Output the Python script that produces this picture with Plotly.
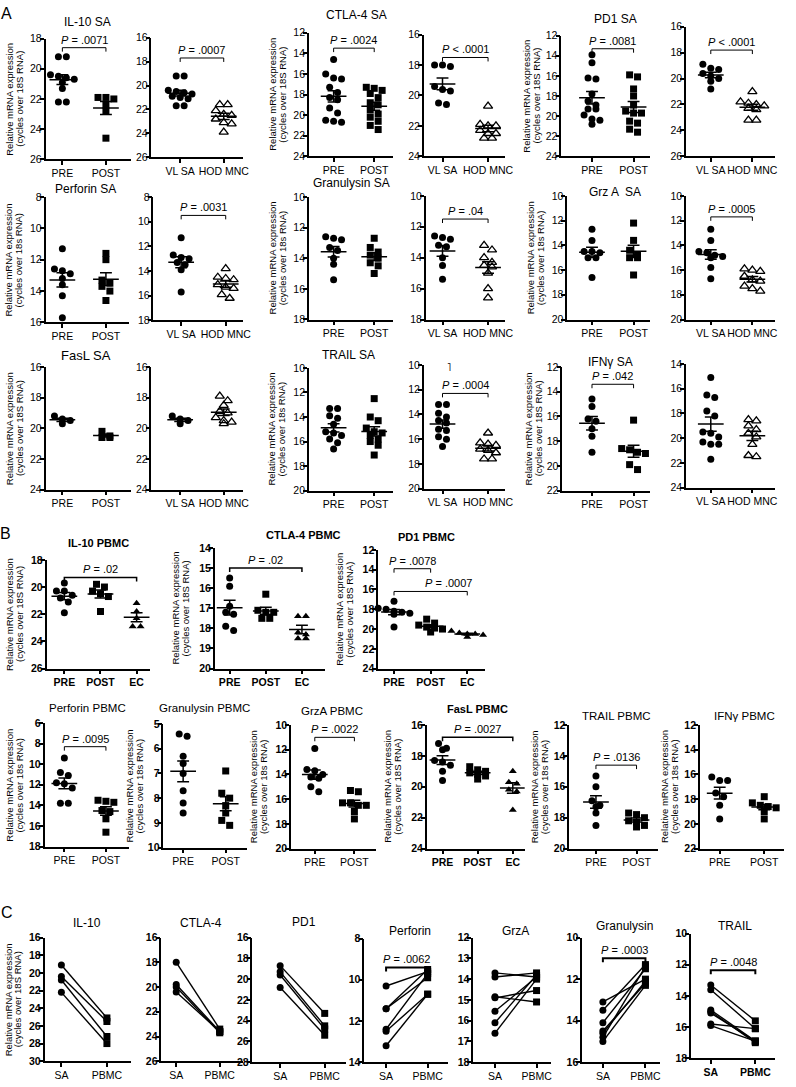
import numpy as np
import plotly.graph_objects as go

W, H = 796, 1087
FONT = "Arial, Liberation Sans, sans-serif"

# ---------------- DATA (cycles over 18S RNA) ----------------
# Panel A, row 1
IL10_SA_PRE = [19.2, 19.2, 20.4, 20.5, 20.6, 20.7, 20.9, 21.3, 22.2, 22.2]
IL10_SA_POST = [21.9, 21.9, 22.0, 22.4, 22.8, 24.6]
IL10_VLSA = [19.2, 19.2, 20.4, 20.5, 20.6, 20.7, 20.9, 21.0, 21.1, 21.7, 21.7]
IL10_HOD = [21.6, 21.6, 22.1, 22.4, 22.5, 22.8, 23.1, 23.2, 23.9]
CTLA4_SA_PRE = [14.6, 16.0, 16.4, 16.5, 17.3, 17.8, 18.3, 18.5, 19.3, 19.8, 20.5, 20.7, 20.6]
CTLA4_SA_POST = [17.3, 17.4, 17.6, 17.9, 18.3, 18.8, 19.0, 19.5, 19.9, 20.2, 20.6, 21.0, 21.4]
CTLA4_VLSA = [18.0, 18.0, 18.1, 19.4, 19.6, 19.7, 20.5, 20.6]
CTLA4_HOD = [20.7, 21.9, 22.0, 22.0, 22.3, 22.5, 22.5, 22.8, 22.8]
PD1_SA_PRE = [13.9, 14.7, 16.2, 16.3, 17.8, 18.5, 18.9, 19.3, 19.3, 19.9, 20.3, 20.4, 20.8]
PD1_SA_POST = [15.9, 16.1, 17.3, 18.0, 18.9, 19.5, 19.7, 19.7, 20.5, 20.7, 21.3, 21.6]
PD1_VLSA = [18.9, 19.2, 19.3, 19.6, 19.8, 20.0, 20.2, 20.8]
PD1_HOD = [21.0, 21.8, 21.9, 22.0, 22.1, 22.3, 22.4, 23.2, 23.2]
# Panel A, row 2
PERF_SA_PRE = [11.3, 12.6, 12.7, 12.9, 13.2, 13.6, 14.3, 15.7]
PERF_SA_POST = [11.6, 12.0, 13.3, 13.5, 13.7, 14.0, 14.6]
PERF_VLSA = [11.3, 12.7, 12.9, 13.0, 13.3, 13.5, 13.9, 15.7]
PERF_HOD = [13.8, 14.5, 14.6, 14.7, 15.1, 15.3, 15.4, 15.9, 16.2]
GNLY_SA_PRE = [12.6, 12.7, 12.8, 13.3, 13.5, 14.0, 14.4, 15.4]
GNLY_SA_POST = [12.7, 13.3, 13.6, 13.8, 14.0, 14.3, 14.5, 15.0]
GNLY_VLSA = [12.6, 12.7, 12.8, 13.2, 13.3, 14.0, 14.5, 15.4]
GNLY_HOD = [13.2, 13.5, 14.0, 14.3, 14.5, 14.6, 15.0, 16.0, 16.6]
GRZA_SA_PRE = [12.7, 13.6, 14.5, 14.5, 14.6, 15.0, 15.0, 16.6]
GRZA_SA_POST = [12.2, 13.6, 14.4, 14.8, 15.0, 15.0, 16.4]
GRZA_VLSA = [12.7, 13.6, 14.5, 14.6, 14.8, 14.9, 15.0, 15.8, 16.7]
GRZA_HOD = [15.9, 16.0, 16.1, 16.5, 16.8, 16.9, 17.3, 17.5, 17.7]
# Panel A, row 3
FASL_SA_PRE = [19.2, 19.4, 19.5, 19.7]
FASL_SA_POST = [20.2, 20.5, 20.6, 20.6]
FASL_VLSA = [19.2, 19.4, 19.5, 19.7]
FASL_HOD = [17.9, 18.2, 18.5, 18.9, 19.0, 19.3, 19.5, 19.6, 19.7]
TRAIL_SA_PRE = [13.3, 13.3, 13.9, 14.1, 14.6, 15.2, 15.3, 15.5, 15.8, 16.1, 16.6]
TRAIL_SA_POST = [12.5, 14.0, 14.3, 14.9, 15.2, 15.3, 15.5, 15.8, 16.0, 16.3, 17.1]
TRAIL_VLSA = [13.2, 13.2, 13.9, 14.2, 14.5, 14.7, 15.2, 15.3, 15.8, 16.0, 16.6]
TRAIL_HOD = [15.5, 16.3, 16.4, 16.5, 16.8, 16.9, 17.1, 17.6, 17.6]
IFNG_SA_PRE = [14.6, 15.2, 16.2, 16.4, 17.0, 17.6, 18.9]
IFNG_SA_POST = [16.3, 18.6, 18.7, 18.9, 19.0, 19.9, 20.3]
IFNG_VLSA = [15.1, 16.5, 16.7, 17.8, 18.2, 19.5, 19.6, 19.9, 20.3, 20.5, 20.5, 21.7]
IFNG_HOD = [18.5, 18.6, 19.0, 19.3, 19.6, 19.9, 20.5, 21.4, 21.5]
# Panel B, row 1
IL10_PBMC_PRE = [19.7, 20.3, 20.3, 20.6, 20.8, 21.1, 21.9]
IL10_PBMC_POST = [19.8, 20.0, 20.3, 20.5, 20.7, 21.8]
IL10_PBMC_EC = [21.2, 21.8, 22.3, 22.9, 22.9]
CTLA4_PBMC_PRE = [15.5, 15.9, 16.9, 17.2, 17.3, 17.9, 18.1]
CTLA4_PBMC_POST = [16.3, 17.1, 17.2, 17.2, 17.5, 17.5]
CTLA4_PBMC_EC = [17.4, 17.4, 18.2, 18.3, 18.5, 18.5]
PD1_PBMC_PRE = [17.2, 17.9, 18.0, 18.2, 18.3, 18.4, 18.5, 19.8]
PD1_PBMC_POST = [19.0, 19.4, 19.6, 19.8, 19.9, 20.0, 20.3]
PD1_PBMC_EC = [20.2, 20.4, 20.5, 20.5, 20.6, 20.8]
# Panel B, row 2
PERF_PBMC_PRE = [9.4, 10.8, 11.1, 11.8, 11.9, 12.3, 13.8, 13.8]
PERF_PBMC_POST = [13.5, 13.6, 13.7, 14.5, 14.6, 15.3, 16.6]
GNLY_PBMC_PRE = [5.4, 5.5, 6.3, 6.6, 7.0, 7.7, 8.2, 8.6]
GNLY_PBMC_POST = [6.9, 7.8, 8.0, 8.3, 8.6, 8.9, 9.1]
GRZA_PBMC_PRE = [11.9, 13.6, 13.7, 14.0, 14.2, 14.3, 15.0, 15.4]
GRZA_PBMC_POST = [15.3, 15.4, 16.3, 16.3, 16.5, 16.5, 17.0, 17.6]
FASL_PBMC_PRE = [17.2, 17.5, 17.6, 18.3, 18.4, 18.6, 19.0, 19.6]
FASL_PBMC_POST = [18.7, 18.9, 19.0, 19.1, 19.2, 19.3, 19.5]
FASL_PBMC_EC = [19.0, 19.7, 19.8, 20.2, 20.3, 21.5]
TRAIL_PBMC_PRE = [15.3, 16.0, 16.9, 17.2, 17.3, 17.7, 18.5]
TRAIL_PBMC_POST = [17.7, 17.8, 18.0, 18.2, 18.3, 18.5, 18.6]
IFNG_PBMC_PRE = [16.2, 16.5, 16.5, 17.5, 17.8, 18.5, 19.6]
IFNG_PBMC_POST = [17.8, 18.3, 18.5, 18.6, 18.7, 19.0, 19.6]
# Panel C (paired SA -> PBMC)
C_IL10_SA = [19.1, 20.4, 20.8, 22.2]
C_IL10_PBMC = [25.1, 25.5, 27.2, 28.0]
C_CTLA4_SA = [18.0, 19.8, 20.0, 20.4]
C_CTLA4_PBMC = [23.4, 23.6, 23.7, 23.6]
C_PD1_SA = [18.7, 19.3, 19.6, 20.8]
C_PD1_PBMC = [23.3, 24.5, 24.8, 25.4]
C_PERF_SA = [10.3, 11.4, 11.4, 12.4, 12.5, 13.2]
C_PERF_PBMC = [9.6, 9.5, 9.9, 9.7, 10.7, 10.7]
C_GRZA_SA = [13.7, 13.9, 14.85, 14.9, 15.55, 16.1, 16.6]
C_GRZA_PBMC = [13.9, 13.7, 15.1, 14.55, 13.9, 13.8, 14.0]
C_GNLY_SA = [13.1, 13.5, 14.1, 14.5, 14.6, 14.8, 15.0]
C_GNLY_PBMC = [12.0, 11.3, 11.5, 12.2, 12.1, 11.4, 12.3]
C_TRAIL_SA = [13.3, 13.6, 14.9, 15.0, 15.1, 15.8, 15.9]
C_TRAIL_PBMC = [15.6, 16.1, 16.9, 17.0, 16.9, 16.1, 16.9]

CATS_PP = ["PRE", "POST"]
CATS_VH = ["VL SA", "HOD MNC"]
CATS_PPE = ["PRE", "POST", "EC"]
CATS_SP = ["SA", "PBMC"]

YT_S = ("Relative mRNA expression", "(cycles over 18S RNA)")
YT_s = ("Relative mRNA expression", "(cycles over 18s RNA)")

# ---------------- STYLES ----------------
STY = {
    "circle": dict(symbol="circle", size=7, color="black"),
    "square": dict(symbol="square", size=7, color="black"),
    "tri_open": dict(symbol="triangle-up-open", size=8, color="black", line=dict(width=1.3, color="black")),
    "tri": dict(symbol="triangle-up", size=7, color="black"),
}

def P(box, ylim, dtick, cats, cpx, groups=None, brackets=(), title=None, ytitle=None,
      tickbold=False, catbold=False, paired=None, bw=1.0):
    return dict(box=box, ylim=ylim, dtick=dtick, cats=cats, cpx=cpx, groups=groups or [],
                brackets=brackets, title=title, ytitle=ytitle, tickbold=tickbold,
                catbold=catbold, paired=paired, bw=bw)

panels = [
    # ---- A row 1
    P((46, 132, 33, 155), (18, 26), 2, CATS_PP, (63, 107),
      [(IL10_SA_PRE, "circle"), (IL10_SA_POST, "square")], [(0, 1, 18.6, ".0071")],
      ("IL-10 SA", 88, 16, 12, False), (YT_S, 17)),
    P((153, 245, 32, 153), (16, 26), 2, CATS_VH, (182, 226),
      [(IL10_VLSA, "circle"), (IL10_HOD, "tri_open")], [(0, 1, 17.7, ".0007")]),
    P((312, 397, 27, 152), (12, 24), 2, CATS_PP, (337, 378),
      [(CTLA4_SA_PRE, "circle"), (CTLA4_SA_POST, "square")], [(0, 1, 13.5, ".0024")],
      ("CTLA-4 SA", 360, 9, 12, False), (YT_S, 282)),
    P((428, 510, 29, 152), (16, 24), 2, CATS_VH, (447, 493),
      [(CTLA4_VLSA, "circle"), (CTLA4_HOD, "tri_open")], [(0, 1, 17.5, "< .0001")]),
    P((567, 657, 30, 152), (12, 24), 2, CATS_PP, (598, 640),
      [(PD1_SA_PRE, "circle"), (PD1_SA_POST, "square")], [(0, 1, 13.3, ".0081")],
      ("PD1 SA", 622, 13, 12, False), (YT_S, 539)),
    P((693, 783, 21, 152), (16, 26), 2, CATS_VH, (718, 760),
      [(PD1_VLSA, "circle"), (PD1_HOD, "tri_open")], [(0, 1, 17.8, "< .0001")]),
    # ---- A row 2
    P((46, 130, 193, 320), (8, 16), 2, CATS_PP, (63, 107),
      [(PERF_SA_PRE, "circle"), (PERF_SA_POST, "square")], [],
      ("Perforin SA", 86, 185, 12, False), (YT_s, 16)),
    P((155, 245, 193, 318), (8, 18), 2, CATS_VH, (183, 228),
      [(PERF_VLSA, "circle"), (PERF_HOD, "tri_open")], [(0, 1, 9.5, ".0031")]),
    P((312, 397, 193, 317), (10, 18), 2, CATS_PP, (337, 378),
      [(GNLY_SA_PRE, "circle"), (GNLY_SA_POST, "square")], [],
      ("Granulysin SA", 355, 179, 12, False), (YT_s, 282)),
    P((430, 510, 192, 317), (10, 18), 2, CATS_VH, (447, 493),
      [(GNLY_VLSA, "circle"), (GNLY_HOD, "tri_open")], [(0, 1, 11.5, ".04")]),
    P((573, 657, 192, 317), (10, 20), 2, CATS_PP, (598, 640),
      [(GRZA_SA_PRE, "circle"), (GRZA_SA_POST, "square")], [],
      ("Grz A  SA", 621, 188, 12, False), (YT_s, 543)),
    P((693, 783, 192, 317), (10, 20), 2, CATS_VH, (718, 760),
      [(GRZA_VLSA, "circle"), (GRZA_HOD, "tri_open")], [(0, 1, 11.7, ".0005")]),
    # ---- A row 3
    P((46, 132, 365, 489), (16, 24), 2, CATS_PP, (63, 107),
      [(FASL_SA_PRE, "circle"), (FASL_SA_POST, "square")], [],
      ("FasL SA", 87, 353, 13, False), (YT_S, 16)),
    P((153, 245, 365, 489), (16, 24), 2, CATS_VH, (182, 226),
      [(FASL_VLSA, "circle"), (FASL_HOD, "tri_open")], []),
    P((312, 397, 366, 490), (10, 20), 2, CATS_PP, (337, 378),
      [(TRAIL_SA_PRE, "circle"), (TRAIL_SA_POST, "square")], [],
      ("TRAIL SA", 352, 353, 12, False), (YT_s, 281)),
    P((428, 510, 363, 488), (10, 20), 2, CATS_VH, (447, 493),
      [(TRAIL_VLSA, "circle"), (TRAIL_HOD, "tri_open")], [(0, 1, 12.3, ".0004")]),
    P((568, 657, 365, 490), (12, 22), 2, CATS_PP, (598, 640),
      [(IFNG_SA_PRE, "circle"), (IFNG_SA_POST, "square")], [(0, 1, 13.4, ".042")],
      ("IFNγ SA", 617, 360, 12, False), (YT_S, 541)),
    P((693, 783, 362, 487), (14, 24), 2, CATS_VH, (718, 760),
      [(IFNG_VLSA, "circle"), (IFNG_HOD, "tri_open")], []),
    # ---- B row 1
    P((47, 152, 560, 670), (18, 26), 2, CATS_PPE, (65, 102, 138),
      [(IL10_PBMC_PRE, "circle"), (IL10_PBMC_POST, "square"), (IL10_PBMC_EC, "tri")],
      [(0, 2, 19.3, ".02")], ("IL-10 PBMC", 99, 543, 11, True), (YT_S, 16),
      tickbold=True, catbold=True, bw=1.5),
    P((217, 328, 548, 670), (14, 20), 1, CATS_PPE, (232, 270, 305),
      [(CTLA4_PBMC_PRE, "circle"), (CTLA4_PBMC_POST, "square"), (CTLA4_PBMC_EC, "tri")],
      [(0, 2, 15.0, ".02")], ("CTLA-4 PBMC", 307, 535, 11, True), (YT_S, 184),
      tickbold=True, catbold=True, bw=1.5),
    P((382, 490, 550, 670), (12, 24), 2, CATS_PPE, (398, 435, 472),
      [(PD1_PBMC_PRE, "circle"), (PD1_PBMC_POST, "square"), (PD1_PBMC_EC, "tri")],
      [(0, 1, 13.9, ".0078"), (0, 2, 16.2, ".0007", 1.5)],
      ("PD1 PBMC", 431, 537, 11, True), (YT_S, 350),
      tickbold=True, catbold=True),
    # ---- B row 2
    P((45, 130, 725, 850), (6, 18), 2, CATS_PP, (65, 107),
      [(PERF_PBMC_PRE, "circle"), (PERF_PBMC_POST, "square")], [(0, 1, 8.3, ".0095")],
      ("Perforin PBMC", 88, 710, 11.5, False), (YT_s, 17), tickbold=True),
    P((165, 250, 726, 851), (5, 10), 1, CATS_PP, (185, 228),
      [(GNLY_PBMC_PRE, "circle"), (GNLY_PBMC_POST, "square")], [],
      ("Granulysin PBMC", 207, 710, 11.5, False), (YT_s, 138), tickbold=True),
    P((294, 380, 727, 852), (10, 20), 2, CATS_PP, (318, 358),
      [(GRZA_PBMC_PRE, "circle"), (GRZA_PBMC_POST, "square")], [(0, 1, 11.0, ".0022")],
      ("GrzA PBMC", 335, 713, 11.5, False), (YT_s, 263), tickbold=True),
    P((431, 530, 727, 852), (16, 24), 2, CATS_PPE, (447, 483, 518),
      [(FASL_PBMC_PRE, "circle"), (FASL_PBMC_POST, "square"), (FASL_PBMC_EC, "tri")],
      [(0, 2, 16.8, ".0027")], ("FasL PBMC", 482, 711, 11, True), (YT_S, 399),
      tickbold=True, catbold=True, bw=1.5),
    P((575, 665, 727, 852), (12, 20), 2, CATS_PP, (602, 643),
      [(TRAIL_PBMC_PRE, "circle"), (TRAIL_PBMC_POST, "square")], [(0, 1, 14.6, ".0136")],
      ("TRAIL PBMC", 623, 718, 11.5, False), (YT_s, 547), tickbold=True),
    P((707, 792, 727, 852), (12, 22), 2, CATS_PP, (727, 772),
      [(IFNG_PBMC_PRE, "circle"), (IFNG_PBMC_POST, "square")], [],
      ("IFNγ PBMC", 752, 718, 11.5, False), (YT_s, 679), tickbold=True),
    # ---- C
    P((45, 132, 942, 1067), (16, 30), 2, CATS_SP, (62, 108), paired=(C_IL10_SA, C_IL10_PBMC),
      title=("IL-10", 88, 927, 12, False), ytitle=(YT_S, 15), tickbold=True),
    P((163, 245, 942, 1067), (16, 26), 2, CATS_SP, (178, 222), paired=(C_CTLA4_SA, C_CTLA4_PBMC),
      title=("CTLA-4", 203, 927, 12, False), tickbold=True),
    P((255, 350, 942, 1068), (16, 28), 2, CATS_SP, (283, 328), paired=(C_PD1_SA, C_PD1_PBMC),
      title=("PD1", 307, 926, 12, False), tickbold=True),
    P((368, 453, 943, 1068), (8, 14), 2, CATS_SP, (390, 432), paired=(C_PERF_SA, C_PERF_PBMC),
      brackets=[(0, 1, 9.4, ".0062")], title=("Perforin", 414, 935, 12, False), tickbold=True, bw=2),
    P((478, 557, 942, 1068), (12, 18), 1, CATS_SP, (500, 542), paired=(C_GRZA_SA, C_GRZA_PBMC),
      title=("GrzA", 521, 935, 12, False), tickbold=True),
    P((588, 667, 942, 1068), (10, 16), 2, CATS_SP, (609, 652), paired=(C_GNLY_SA, C_GNLY_PBMC),
      brackets=[(0, 1, 11.0, ".0003")], title=("Granulysin", 631, 930, 12, False), tickbold=True, bw=2),
    P((698, 783, 938, 1064), (10, 18), 2, CATS_SP, (718, 763), paired=(C_TRAIL_SA, C_TRAIL_PBMC),
      brackets=[(0, 1, 12.35, ".0048")], title=("TRAIL", 742, 930, 12, False),
      tickbold=True, catbold=True, bw=2),
]


def swarm(vals, ppy, ppx, sp=8.0, thr=6.0):
    vals = np.asarray(vals, float)
    order = np.argsort(vals, kind="stable")
    ypx = vals * ppy
    offs = np.zeros(len(vals))
    rows, cur = [], [order[0]]
    for idx in order[1:]:
        if ypx[idx] - ypx[cur[0]] < thr:
            cur.append(idx)
        else:
            rows.append(cur)
            cur = [idx]
    rows.append(cur)
    for r in rows:
        n = len(r)
        for m, idx in enumerate(r):
            offs[idx] = (m - (n - 1) / 2) * sp / ppx
    return offs


fig = go.Figure()
axes = {}
annotations = []

for k, p in enumerate(panels, start=1):
    x0, x1, yt, yb = p["box"]
    ytop, ybot = p["ylim"]
    cats, cpx = p["cats"], p["cpx"]
    n = len(cats)
    ppx = (cpx[-1] - cpx[0]) / (n - 1)
    r0 = -(cpx[0] - x0) / ppx
    r1 = (x1 - cpx[0]) / ppx
    ppy = (yb - yt) / (ybot - ytop)
    xa = "x" if k == 1 else f"x{k}"
    ya = "y" if k == 1 else f"y{k}"
    xn = "xaxis" if k == 1 else f"xaxis{k}"
    yn = "yaxis" if k == 1 else f"yaxis{k}"
    tv = np.arange(ytop, ybot + 1e-9, p["dtick"])
    tw = "bold" if p["tickbold"] else "normal"
    cw = "bold" if p["catbold"] else "normal"
    common = dict(showline=True, linecolor="black", linewidth=1.5, ticks="outside", ticklen=4,
                  tickwidth=1.5, tickcolor="black", showgrid=False, zeroline=False, fixedrange=True)
    axes[xn] = dict(domain=[x0 / W, x1 / W], range=[r0, r1], anchor=ya, tickmode="array",
                    tickvals=list(range(n)), ticktext=cats, tickangle=0, ticklabelstandoff=-1,
                    tickfont=dict(family=FONT, size=10.5, color="black", weight=cw), **common)
    axes[yn] = dict(domain=[1 - yb / H, 1 - yt / H], range=[ybot, ytop], anchor=xa, tickmode="array",
                    tickvals=[float(v) for v in tv], ticktext=[f"{v:g}" for v in tv],
                    ticklabelstandoff=-4,
                    tickfont=dict(family=FONT, size=10.5, color="black", weight=tw), **common)

    if p["paired"] is not None:
        sa, pb = p["paired"]
        lx, ly = [], []
        for a, b in zip(sa, pb):
            lx += [0, 1, None]
            ly += [a, b, None]
        fig.add_trace(go.Scatter(x=lx, y=ly, xaxis=xa, yaxis=ya, mode="lines",
                                 line=dict(color="black", width=1.4), hoverinfo="skip",
                                 showlegend=False, cliponaxis=False))
        fig.add_trace(go.Scatter(x=[0] * len(sa), y=sa, xaxis=xa, yaxis=ya, mode="markers",
                                 marker=STY["circle"], showlegend=False, cliponaxis=False))
        fig.add_trace(go.Scatter(x=[1] * len(pb), y=pb, xaxis=xa, yaxis=ya, mode="markers",
                                 marker=STY["square"], showlegend=False, cliponaxis=False))
    else:
        for gi, (vals, sty) in enumerate(p["groups"]):
            v = np.asarray(vals, float)
            offs = swarm(v, ppy, ppx)
            fig.add_trace(go.Scatter(x=gi + offs, y=v, xaxis=xa, yaxis=ya, mode="markers",
                                     marker=STY[sty], showlegend=False, cliponaxis=False))
            m = v.mean()
            se = v.std(ddof=1) / np.sqrt(len(v))
            hw, cw2 = 13 / ppx, 6 / ppx
            ex = [gi - hw, gi + hw, None, gi, gi, None, gi - cw2, gi + cw2, None, gi - cw2, gi + cw2]
            ey = [m, m, None, m - se, m + se, None, m - se, m - se, None, m + se, m + se]
            fig.add_trace(go.Scatter(x=ex, y=ey, xaxis=xa, yaxis=ya, mode="lines",
                                     line=dict(color="black", width=1.5), hoverinfo="skip",
                                     showlegend=False, cliponaxis=False))

    for br in p["brackets"]:
        i, j, yv, txt = br[:4]
        tx = br[4] if len(br) > 4 else (i + j) / 2
        d = 4 / ppy
        fig.add_trace(go.Scatter(x=[i, i, j, j], y=[yv + d, yv, yv, yv + d], xaxis=xa, yaxis=ya,
                                 mode="lines", line=dict(color="black", width=p["bw"]),
                                 hoverinfo="skip", showlegend=False, cliponaxis=False))
        annotations.append(dict(x=tx, y=yv, xref=xa, yref=ya, yanchor="bottom", xanchor="center",
                                text=f"<i>P</i> {txt}" if txt.startswith("<") else f"<i>P</i> = {txt}",
                                showarrow=False, yshift=0,
                                font=dict(family=FONT, size=11, color="black")))

    if p["title"]:
        t, tx, ty, ts, tb = p["title"]
        annotations.append(dict(x=tx / W, y=1 - ty / H, xref="paper", yref="paper", text=t,
                                showarrow=False, xanchor="center", yanchor="middle",
                                font=dict(family=FONT, size=ts, color="black",
                                          weight="bold" if tb else "normal")))
    if p["ytitle"]:
        (l1, l2), tx = p["ytitle"]
        for line, dx in ((l1, -7), (l2, 3)):
            annotations.append(dict(x=(tx + dx) / W, y=1 - (yt + yb) / 2 / H, xref="paper",
                                    yref="paper", text=line, textangle=-90, showarrow=False,
                                    xanchor="center", yanchor="middle", borderpad=0,
                                    font=dict(family=FONT, size=9.5, color="black")))

for letter, lx, ly in [("A", 7, 8), ("B", 6, 533), ("C", 7, 917)]:
    annotations.append(dict(x=lx / W, y=1 - ly / H, xref="paper", yref="paper", text=letter,
                            showarrow=False, xanchor="center", yanchor="middle",
                            font=dict(family=FONT, size=16, color="black")))
annotations.append(dict(x=454 / W, y=1 - 357 / H, xref="paper", yref="paper", text="˥",
                        showarrow=False, font=dict(family=FONT, size=11, color="black")))

fig.update_layout(width=W, height=H, margin=dict(l=0, r=0, t=0, b=0, pad=0),
                  plot_bgcolor="white", paper_bgcolor="white", showlegend=False,
                  annotations=annotations, **axes)

fig.write_html("out.html", config={"displayModeBar": False},
               post_script="document.body.style.margin='0px';")
